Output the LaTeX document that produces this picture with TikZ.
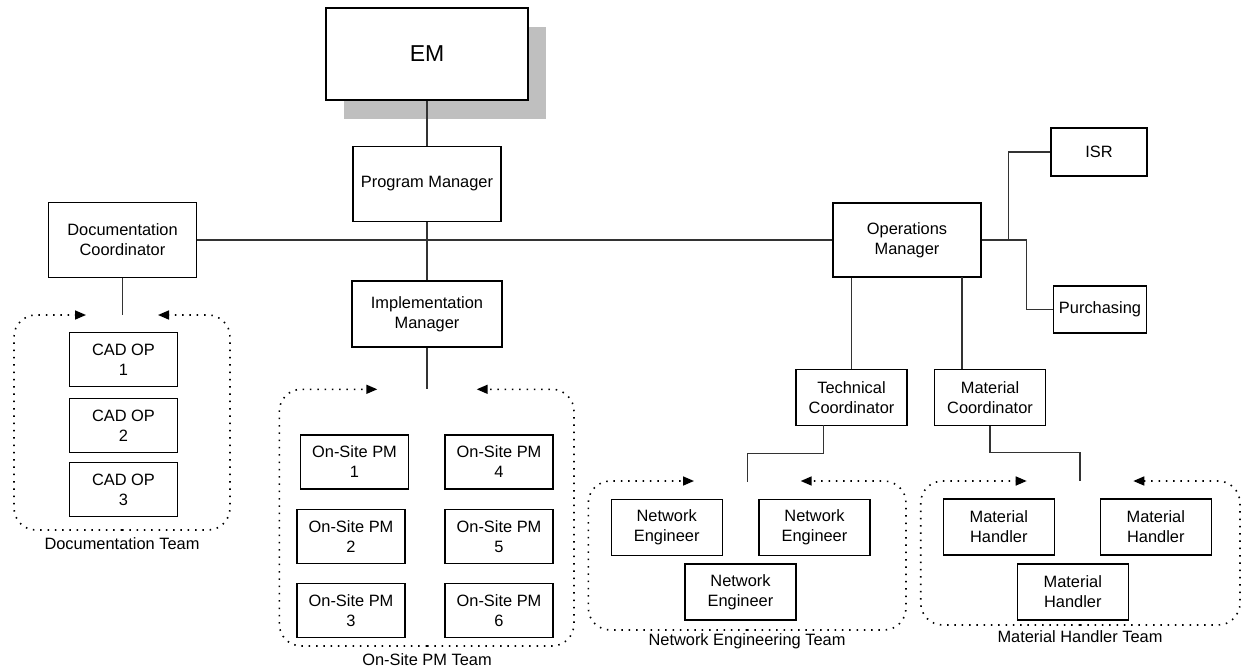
\documentclass[tikz,border=0pt]{standalone}
\usepackage{fontspec}
\setmainfont{Liberation Sans}
\usetikzlibrary{arrows.meta}
\begin{document}
\begin{tikzpicture}[x=1pt,y=-1pt,
  box/.style n args={2}{draw=black, line width=1.3pt, fill=white, align=center,
    minimum width=#1, minimum height=#2, inner sep=0pt,
    font=\fontsize{16.4}{20}\selectfont},
  conn/.style={draw=black!80, line width=1.1pt},
  grp/.style={draw=black, line width=1.6pt, dash pattern=on 1.5pt off 5.8pt,
    rounded corners=22pt, -{Triangle[length=11pt,width=9pt]}},
  lbl/.style={inner sep=0pt, font=\fontsize{16.4}{20}\selectfont}]
\useasboundingbox (0,0) rectangle (1243,670);

% EM with shadow
\fill[black!25] (344,27) rectangle (546,119);
\node[box={202pt}{92pt}, font=\fontsize{23}{27}\selectfont] (em) at (427,54) {EM};

\node[box={148pt}{75pt}] (pm) at (427,184) {Program Manager};
\node[box={148pt}{75pt}] (dc) at (122.5,240) {Documentation\\Coordinator};
\node[box={150pt}{66pt}] (im) at (427,314) {Implementation\\Manager};
\node[box={148pt}{74pt}] (om) at (907,240) {Operations\\Manager};
\node[box={96pt}{48pt}] (isr) at (1099,152) {ISR};
\node[box={93pt}{47pt}] (pur) at (1100,309.5) {Purchasing};
\node[box={111pt}{56pt}] (tc) at (851.5,397.3) {Technical\\Coordinator};
\node[box={111pt}{56pt}] (mc) at (990,397.3) {Material\\Coordinator};

% CAD OPs
\node[box={108pt}{54pt}] (cad1) at (123.5,359.7) {CAD OP\\1};
\node[box={108pt}{54pt}] (cad2) at (123.5,425.3) {CAD OP\\2};
\node[box={108pt}{54pt}] (cad3) at (123.5,489.7) {CAD OP\\3};

% On-site PMs
\node[box={108pt}{54pt}] (os1) at (354.5,462) {On-Site PM\\1};
\node[box={108pt}{54pt}] (os2) at (351,536.3) {On-Site PM\\2};
\node[box={108pt}{54pt}] (os3) at (351,610.3) {On-Site PM\\3};
\node[box={108pt}{54pt}] (os4) at (499,462) {On-Site PM\\4};
\node[box={108pt}{54pt}] (os5) at (499,536.3) {On-Site PM\\5};
\node[box={108pt}{54pt}] (os6) at (499,610.3) {On-Site PM\\6};

% Network engineers
\node[box={111pt}{56pt}] (ne1) at (666.7,527.5) {Network\\Engineer};
\node[box={111pt}{56pt}] (ne2) at (814.5,527.5) {Network\\Engineer};
\node[box={111pt}{56pt}] (ne3) at (740.5,592) {Network\\Engineer};

% Material handlers
\node[box={111pt}{56pt}] (mh1) at (998.8,527) {Material\\Handler};
\node[box={111pt}{56pt}] (mh2) at (1155.8,527) {Material\\Handler};
\node[box={111pt}{56pt}] (mh3) at (1072.8,592) {Material\\Handler};

% connector ends
\coordinate (dcend) at (122.5,315);
\coordinate (imend) at (427,388.5);
\coordinate (tcbend) at (823.3,453.3);
\coordinate (tcend) at (747.3,481.5);
\coordinate (mcbend) at (990,452.7);
\coordinate (mcend) at (1080,481);
\coordinate (isrx) at (1008.3,240);
\coordinate (purx) at (1026.7,240);

% connectors
\draw[conn] (em.south) -- (pm.north);
\draw[conn] (pm.south) -- (im.north);
\draw[conn] (dc.east) -- (om.west);
\draw[conn] (dc.south) -- (dcend);
\draw[conn] (im.south) -- (imend);
\draw[conn] (om.east) -- (isrx) |- (isr.west);
\draw[conn] (om.east) -- (purx) |- (pur.west);
\draw[conn] (tc.north |- om.south) -- (tc.north);
\draw[conn] (962,276.7) -- (962,369.3);
\draw[conn] (823.3,425.3) -- (tcbend) -| (tcend);
\draw[conn] (mc.south) -- (mcbend) -| (mcend);

% group frames
\coordinate (dl) at (86,315);   \coordinate (dr) at (158,315);
\draw[grp] (122,530) -| (14,315) -- (dl);
\draw[grp] (122,530) -| (230,315) -- (dr);
\node[lbl] (dteam) at (122,543.5) {Documentation Team};

\coordinate (pl) at (377.3,389.3); \coordinate (pr) at (476.7,389.3);
\draw[grp] (427,646) -| (279.3,389.3) -- (pl);
\draw[grp] (427,646) -| (574,389.3) -- (pr);
\node[lbl] (pteam) at (427,660) {On-Site PM Team};

\coordinate (nl) at (694,481); \coordinate (nr) at (800.7,481);
\draw[grp] (747,630) -| (588.3,481) -- (nl);
\draw[grp] (747,630) -| (906,481) -- (nr);
\node[lbl] (nteam) at (747,641) {Network Engineering Team};

\coordinate (ml) at (1026.7,481); \coordinate (mr) at (1133.3,481);
\draw[grp] (1080,625) -| (920.7,481) -- (ml);
\draw[grp] (1080,625) -| (1240,481) -- (mr);
\node[lbl] (mteam) at (1080,637) {Material Handler Team};
\end{tikzpicture}
\end{document}
